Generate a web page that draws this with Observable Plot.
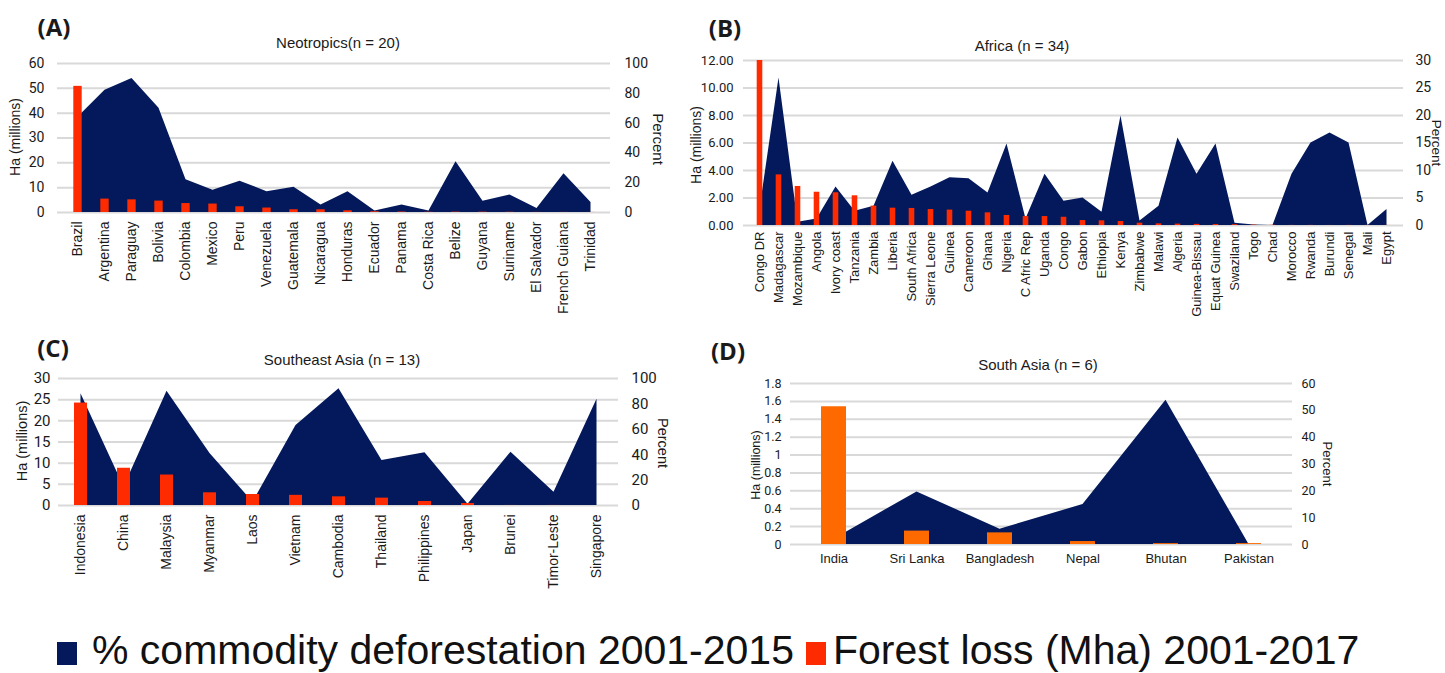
<!DOCTYPE html>
<html><head><meta charset="utf-8">
<script src="https://cdn.jsdelivr.net/npm/d3@7"></script>
<script src="https://cdn.jsdelivr.net/npm/@observablehq/plot@0.6"></script>
<style>
html,body{margin:0;padding:0;background:#fff}
#root{position:relative;width:1445px;height:673px;overflow:hidden;font-family:"Liberation Sans",Arial,sans-serif;color:#1a1a1a}
.t{position:absolute;white-space:nowrap;transform:translate(-50%,-50%);line-height:1}
.svgbox{position:absolute}
.svgbox svg{overflow:visible}
</style></head>
<body><div id="root"></div>
<script>
// ---------- DATA ----------
const neoCountries = ["Brazil","Argentina","Paraguay","Bolivia","Colombia","Mexico","Peru","Venezuela","Guatemala","Nicaragua","Honduras","Ecuador","Panama","Costa Rica","Belize","Guyana","Suriname","El Salvador","French Guiana","Trinidad"];
const neoPct  = [64,82,90,70,22,15,21,14,17,5,14,1,5,1,34,7.6,11.7,2.7,26,6.7];
const neoLoss = [50.8,5.4,5.1,4.6,3.6,3.4,2.3,1.8,1.1,1.1,0.7,0.3,0.2,0.1,0.15,0.15,0.1,0.05,0.05,0.03];
const neoLeftTicks = [0,10,20,30,40,50,60];
const neoRightTicks = [0,20,40,60,80,100];

const afrCountries = ["Congo DR","Madagascar","Mozambique","Angola","Ivory coast","Tanzania","Zambia","Liberia","South Africa","Sierra Leone","Guinea","Cameroon","Ghana","Nigeria","C Afric Rep","Uganda","Congo","Gabon","Ethiopia","Kenya","Zimbabwe","Malawi","Algeria","Guinea-Bissau","Equat Guinea","Swaziland","Togo","Chad","Morocco","Rwanda","Burundi","Senegal","Mali","Egypt"];
const afrPct  = [3,26.8,0.6,1.2,7,2.6,3.5,11.7,5.5,7,8.7,8.5,5.9,14.8,1.2,9.3,4.4,5,2.4,19.9,0.8,3.5,15.9,9.3,14.8,0.4,0.1,0,9.3,15,16.8,15,0,2.9];
const afrLoss = [12.0,3.68,2.84,2.42,2.38,2.16,1.41,1.26,1.24,1.16,1.12,1.04,0.92,0.73,0.65,0.65,0.6,0.36,0.34,0.29,0.17,0.12,0.1,0.08,0.07,0.06,0.03,0.02,0.01,0.01,0.005,0.01,0.01,0.005];
const afrLeftTicks = [0,2,4,6,8,10,12];
const afrRightTicks = [0,5,10,15,20,25,30];

const seaCountries = ["Indonesia","China","Malaysia","Myanmar","Laos","Vietnam","Cambodia","Thailand","Philippines","Japan","Brunei","Timor-Leste","Singapore"];
const seaPct  = [88,14.5,90,41,2.6,63,92,35.5,41.6,1,42,10.5,83.7];
const seaLoss = [24.2,8.8,7.2,3.0,2.6,2.4,2.05,1.74,0.95,0.47,0.02,0.02,0];
const seaLeftTicks = [0,5,10,15,20,25,30];
const seaRightTicks = [0,20,40,60,80,100];

const saCountries = ["India","Sri Lanka","Bangladesh","Nepal","Bhutan","Pakistan"];
const saPct  = [2,19.6,5.7,14.9,53.8,0];
const saLoss = [1.54,0.15,0.13,0.033,0.01,0.01];
const saLeftTicks = [0,0.2,0.4,0.6,0.8,1,1.2,1.4,1.6,1.8];
const saRightTicks = [0,10,20,30,40,50,60];

const panelTags = ["(A)","(B)","(C)","(D)"];
const panelTitles = ["Neotropics(n = 20)","Africa (n = 34)","Southeast Asia (n = 13)","South Asia (n = 6)"];
const leftAxisTitle = "Ha (millions)";
const rightAxisTitle = "Percent";
const legendLabels = ["% commodity deforestation 2001-2015","Forest loss (Mha) 2001-2017"];

// ---------- STYLE ----------
const navy = "#03195b";
const red = "#ff2b00";
const orange = "#ff6a00";
const gridColor = "#d9d9d9";
const root = document.getElementById("root");

function addText(txt, x, y, o = {}) {
  const d = document.createElement("div");
  d.className = "t";
  d.textContent = txt;
  d.style.left = x + "px";
  d.style.top = y + "px";
  d.style.fontSize = (o.size || 14) + "px";
  if (o.weight) d.style.fontWeight = o.weight;
  if (o.family) d.style.fontFamily = o.family;
  if (o.rotate) d.style.transform = `translate(-50%,-50%) rotate(${o.rotate}deg)`;
  root.appendChild(d);
}

function panel(p) {
  const {countries, pct, loss, leftTicks, rightTicks, box, frame} = p;
  const leftMax = leftTicks[leftTicks.length - 1];
  const rightMax = rightTicks[rightTicks.length - 1];
  const k = leftMax / rightMax;
  const data = countries.map((c, i) => ({c, pct: pct[i], loss: loss[i]}));
  const chart = Plot.plot({
    width: box.w, height: box.h,
    marginLeft: frame.x0 - box.x, marginRight: box.x + box.w - frame.x1,
    marginTop: frame.y0 - box.y, marginBottom: box.y + box.h - frame.y1,
    x: {type: "band", domain: countries, padding: 0},
    y: {domain: [0, leftMax]},
    style: {fontFamily: '"Liberation Sans", Arial, sans-serif', fontSize: "13px", color: "#1a1a1a", background: "transparent", overflow: "visible"},
    marks: [
      Plot.gridY({ticks: leftTicks, stroke: gridColor, strokeOpacity: 1, strokeWidth: 2}),
      Plot.areaY(data, {x: "c", y: d => d.pct * k, fill: navy}),
      Plot.barY(data, {x: "c", y: "loss", fill: p.barColor, insetLeft: p.inset, insetRight: p.inset}),
      Plot.axisY({ticks: leftTicks, anchor: "left", tickSize: 0, tickPadding: p.padL, label: null,
        tickFormat: p.leftFmt, fontSize: p.tickSize, fontFamily: "Roboto", fill: "#1a1a1a"}),
      Plot.axisY({ticks: rightTicks.map(t => t * k), anchor: "right", tickSize: 0, tickPadding: p.padR, label: null,
        tickFormat: d => String(Math.round(d / k)), fontSize: p.tickSizeR || p.tickSize, fontFamily: "Roboto", fill: "#1a1a1a"}),
      Plot.axisX({anchor: "bottom", tickSize: 0, tickPadding: p.padX, tickRotate: p.rotate, label: null,
        fontSize: p.xSize, fill: "#1a1a1a"})
    ]
  });
  const holder = document.createElement("div");
  holder.className = "svgbox";
  holder.style.left = box.x + "px";
  holder.style.top = box.y + "px";
  holder.appendChild(chart);
  root.appendChild(holder);
}

panel({countries: neoCountries, pct: neoPct, loss: neoLoss, leftTicks: neoLeftTicks, rightTicks: neoRightTicks,
  box: {x: 0, y: 0, w: 700, h: 330}, frame: {x0: 57, x1: 610, y0: 63, y1: 212},
  barColor: red, inset: 9.3, padL: 13, padR: 14, padX: 9, rotate: -90, xSize: 14, tickSize: 14,
  leftFmt: d => String(d)});
panel({countries: afrCountries, pct: afrPct, loss: afrLoss, leftTicks: afrLeftTicks, rightTicks: afrRightTicks,
  box: {x: 690, y: 0, w: 755, h: 330}, frame: {x0: 743, x1: 1403, y0: 60, y1: 225},
  barColor: red, inset: 6.7, padL: 10, padR: 12, padX: 6, rotate: -90, xSize: 13, tickSize: 13, tickSizeR: 14,
  leftFmt: d => d.toFixed(2)});
panel({countries: seaCountries, pct: seaPct, loss: seaLoss, leftTicks: seaLeftTicks, rightTicks: seaRightTicks,
  box: {x: 0, y: 330, w: 700, h: 290}, frame: {x0: 58, x1: 618, y0: 378, y1: 505},
  barColor: red, inset: 15, padL: 8, padR: 13, padX: 9, rotate: -90, xSize: 14, tickSize: 15,
  leftFmt: d => String(d)});
panel({countries: saCountries, pct: saPct, loss: saLoss, leftTicks: saLeftTicks, rightTicks: saRightTicks,
  box: {x: 700, y: 330, w: 745, h: 290}, frame: {x0: 790, x1: 1292, y0: 383, y1: 544},
  barColor: orange, inset: 29, padL: 9, padR: 9, padX: 9, rotate: 0, xSize: 13, tickSize: 12.5,
  leftFmt: d => String(+d.toFixed(1))});

// panel tags and titles
const tagPos = [[54, 27], [725, 28], [53, 348], [728, 351]];
const titlePos = [[338, 42], [1022, 45], [342, 359], [1038, 364]];
panelTags.forEach((t, i) => addText(t, tagPos[i][0], tagPos[i][1], {size: 24, weight: 700, family: '"Open Sans", sans-serif'}));
panelTitles.forEach((t, i) => addText(t, titlePos[i][0], titlePos[i][1], {size: 15}));
// axis titles
const leftTitlePos = [[15, 137, 14], [696, 145, 14], [22, 441, 14.5], [756, 465, 12.5]];
const rightTitlePos = [[658, 139, 15], [1436, 143, 13.5], [663, 443, 14.5], [1327, 464, 13]];
leftTitlePos.forEach(([x, y, s]) => addText(leftAxisTitle, x, y, {size: s, rotate: -90}));
rightTitlePos.forEach(([x, y, s]) => addText(rightAxisTitle, x, y, {size: s, rotate: 90}));

// legend
function legendItem(color, label, sx, tx) {
  const sq = document.createElement("div");
  sq.style.cssText = `position:absolute;left:${sx}px;top:642px;width:20px;height:23px;background:${color}`;
  root.appendChild(sq);
  const t = document.createElement("div");
  t.style.cssText = `position:absolute;left:${tx}px;top:630px;font-size:41px;line-height:41px;white-space:nowrap;color:#111`;
  t.textContent = label;
  root.appendChild(t);
}
legendItem(navy, legendLabels[0], 57, 92);
legendItem(red, legendLabels[1], 806, 833);
</script>
</body></html>
